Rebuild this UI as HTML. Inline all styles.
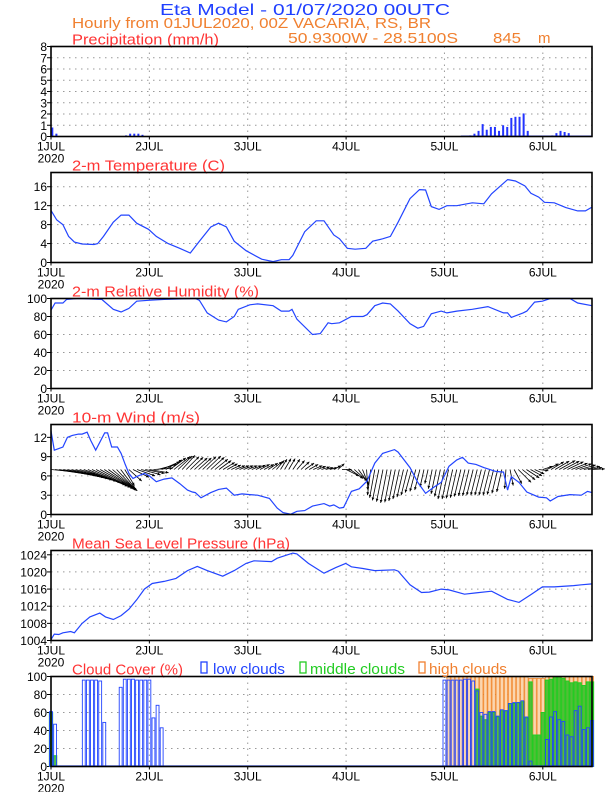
<!DOCTYPE html>
<html><head><meta charset="utf-8"><style>
html,body{margin:0;padding:0;background:#fff;}
svg{display:block;font-family:"Liberation Sans",sans-serif;}
</style></head><body>
<svg id="chart" width="612" height="792" viewBox="0 0 612 792" xmlns="http://www.w3.org/2000/svg">
<text x="160" y="15" font-size="16" fill="#2040ff" textLength="290" lengthAdjust="spacingAndGlyphs">Eta Model - 01/07/2020 00UTC</text>
<text x="72" y="28" font-size="15" fill="#f08030" textLength="359" lengthAdjust="spacingAndGlyphs">Hourly from 01JUL2020, 00Z  VACARIA, RS, BR</text>
<text x="288" y="43" font-size="15" fill="#f08030" textLength="170" lengthAdjust="spacingAndGlyphs">50.9300W - 28.5100S</text>
<text x="493" y="43" font-size="15" fill="#f08030" textLength="28" lengthAdjust="spacingAndGlyphs">845</text>
<text x="538" y="43" font-size="15" fill="#f08030">m</text>
<g id="g"></g>
</svg>
<script>
// ---- data ----
const dayLabels = ["1JUL","2JUL","3JUL","4JUL","5JUL","6JUL"];
const precipHours = [0,1,18,19,20,21,22,102,103,104,105,106,107,108,109,110,111,112,113,114,115,116,122,123,124,125,126];
const precipValues = [0.8,0.25,0.1,0.25,0.25,0.25,0.15,0.1,0.25,0.5,1.1,0.6,0.85,0.85,0.5,1.0,0.85,1.65,1.75,1.75,2.05,0.5,0.1,0.3,0.5,0.4,0.3];
const tempHours = [0,1.4,2.9,4.3,5.7,7.6,10.5,11.4,12.8,15.2,17.1,19,20.9,23.8,25.7,28.6,31.4,34,36.2,39,40.9,42.8,44.7,47.6,51.4,54.2,56.2,58.1,59,61.9,64.7,66.6,69,70.4,72.3,74.2,76.8,78.5,80.9,82.8,84.7,87.6,89.9,91.4,92.8,94.7,96.6,99,102.8,105.6,107.5,111.4,113.3,115.6,117.1,119,120.4,122.8,125.6,128.5,130.4,132];
const tempValues = [11,9,8,5.5,4.3,3.9,3.8,4,5.5,8.5,10,10,8.3,7,5.5,4,3,2,4.5,7.5,8.3,7.5,4.5,2.5,0.7,0.2,0.6,0.6,1.5,6.5,8.8,8.8,5.8,5,3,2.8,3,4.5,5,5.5,8.5,13.5,15.4,15.3,11.8,11.2,12,12,12.6,12.4,14.5,17.5,17.2,16.2,14.6,13.8,12.7,12.6,11.6,10.9,10.9,11.7];
const rhHours = [0,1,2.9,3.8,6.7,12.4,15.2,17.1,19,20.9,23.8,27.6,35.2,36.2,38.1,40.9,42.8,44.7,45.7,48.5,50.4,54.2,56.2,58.1,58.8,60,63.8,65.7,67.6,68.5,70.4,73.3,76.1,77.1,79,80.9,82.8,84.7,87.6,89.5,90.9,92.8,95.2,96.6,99,102.8,106.6,110.4,111.4,112.3,115.2,116.1,118,119.9,121.8,126.6,128.5,132];
const rhValues = [87,95,95,99,100,99,88,85,89,97,98,99,100,98,84,76,74,80,88,93,94,92,86,86,88,77,60,61,73,72,73,80,80,82,92,95,94,86,72,67,69,83,86,84,86,88,91,84,84,79,84,86,96,97,100,100,95,92];
const windHours = [0,0.8,2.9,4,5.2,6.7,7.6,8.8,9.7,10.9,13.1,13.8,14.8,16.2,17.1,18.1,19,20,20.9,22.8,24,25.7,27.6,29.5,31.4,33.3,34.5,35.2,36.6,39,40.9,42.8,44.7,46.6,48.5,50.4,53.3,55.2,56.6,58.5,60,61.9,63.8,66.6,68,69,70.4,71.4,73.3,75.2,77.1,79,80.9,83.8,84.7,87.6,89.5,91.4,93.3,95.2,97.1,99,100.4,101.8,103.7,105.6,108.5,110.4,111.4,112.3,114.2,116.1,119,120.9,121.8,123.7,126.6,129.4,130.9,132];
const windSpeed = [13,10,10.5,12,12.3,12.5,12.5,12.8,11.5,10,12.7,12.7,10.5,10.5,9.5,7.8,6.4,5.6,5.9,6.4,6,5.1,5.5,5.7,4.8,3.8,3.5,3.4,2.6,3.4,3.9,4.1,3,3.2,3.1,3,2.5,1,0.3,0.05,0.5,0.6,1.3,1.7,1.3,1.5,1,1.1,3.6,4,5.2,8,9.5,10.1,9.7,7.3,5,3.3,4.2,5,7.5,8.5,8.9,8,7.8,7.3,6.7,6.6,3.8,5.9,5,3.5,2.7,2.6,2.1,2.8,3.1,3,3.6,3.4];
const windU = [7,7,7,7,7,7,7,7,6.5,6.2,
6,5.8,5.5,5,4.5,3.8,3,2.2,1.5,2,
2.5,2.8,3,3,3,3,3,2.8,2.5,2.5,
2.5,2.2,2,2,2,2,2,2.1,2.2,2.1,
2,1.9,1.8,1.6,1.5,1.5,1.5,1.5,1.5,1.5,
1.5,1.5,1.5,1.5,1.5,1.2,1,1,1,1.1,
1.2,1.3,1.4,1.4,1.4,1.3,1.3,1.2,1.2,1.1,
1,1.5,2,2,2,1.6,1,0.2,-0.5,-0.8,
-1,-1,-1,-1,-1,-1,-1,-1,-1,-0.9,
-0.8,-0.6,-0.5,-0.6,-0.8,-0.9,-1,-1,-1,-1,
-1,-1,-1,-1,-1,-1,-1,-1,-1,-0.9,
-0.8,-0.2,0.5,1.2,2,2,2,1.8,1.5,1.5,
1.5,1.8,2,2.2,2.5,2.5,2.5,2.5,2.5,2.5,
2.5,2.2,2];
const windV = [-0.7,-1,-1.2,-1.4,-1.6,-1.8,-2,-2.2,-2.4,-2.6,
-2.8,-3,-3.1,-3.2,-3.3,-3.3,-3.2,-2.9,-2.5,-1.8,
-1.2,-1,-0.8,-0.6,-0.5,0.2,0.8,1.2,1.5,1.8,
2,2.1,2.2,2,1.9,1.8,1.8,2,2.1,1.9,
1.6,1.4,1.1,0.9,0.7,0.6,0.6,0.6,0.6,0.6,
0.7,0.8,0.8,1,1.2,1.4,1.6,1.7,1.7,1.6,
1.4,1.2,1,0.8,0.6,0.5,0.4,0.3,0.3,0.6,
0.9,0,-1,-1.4,-1.8,-2.2,-2.5,-3.2,-4,-4.4,
-4.8,-5,-5.2,-5.1,-4.9,-4.6,-4.3,-4,-3.6,-3.4,
-3.2,-2.7,-2.2,-3,-3.8,-4.2,-4.6,-4.6,-4.5,-4.4,
-4.2,-4.1,-4.1,-4,-4,-4,-4,-4,-3.9,-3.7,
-3.5,-3,-2.5,-2.2,-2,-1.6,-1.3,-1,-0.7,-0.2,
0.5,0.9,1.2,1.3,1.4,1.3,1.2,1,0.9,0.7,
0.5,0.3,0.1];
const presHours = [0,0.8,1.9,2.9,4.8,5.7,7.6,9.5,11.9,13.3,15.2,17.1,19,20.9,22.8,24.7,27.6,30.5,33.3,35.7,38.1,41.9,44.7,47.6,49.5,53.8,55.2,59,60,62.8,66.6,69.5,71.9,73.3,76.1,79,83.8,84.7,87.6,90.4,92.3,95.2,97.1,100.9,103.7,107.5,111.4,114.2,117.1,119.9,122.8,127.5,129.4,132];
const presValues = [1004.2,1005.5,1005.4,1005.8,1006.1,1005.8,1008,1009.5,1010.4,1009.5,1008.9,1009.8,1011.3,1013.5,1016,1017.3,1017.8,1018.5,1020.3,1021.3,1020.3,1019,1020.3,1022,1022.6,1022.4,1023.2,1024.4,1024.2,1022,1019.7,1021,1022,1021.2,1020.8,1020.3,1020.5,1020.2,1017,1015.2,1015.3,1016,1015.8,1014.8,1015.1,1015.5,1013.6,1012.9,1014.7,1016.5,1016.5,1016.8,1017,1017.2];
const lowHours = [0,1,8,9,10,11,12,13,17,18,19,20,21,22,23,24,25,26,27,96,97,98,99,100,101,102,103,104,105,106,107,108,109,110,111,112,113,114,115,116,117,121,122,123,124,125,126,127,128,129,130,131,132];
const lowValues = [61,47,96,96,96,96,95,49,88,97,97,97,96,96,96,96,54,68,43,96,96,96,96,96,97,97,95,84,60,58,61,61,56,63,62,70,71,71,73,55,6,30,55,61,52,50,35,33,62,67,41,43,51];
const midHours = [0,1,104,105,106,107,108,109,110,111,112,113,114,115,116,117,118,119,120,121,122,123,124,125,126,127,128,129,130,131,132];
const midValues = [60,12,86,56,52,60,60,55,62,62,70,70,71,72,54,94,35,35,60,96,97,100,100,98,95,93,94,93,90,94,94];
const highHours = [97,98,99,100,101,102,103,104,105,106,107,108,109,110,111,112,113,114,115,116,117,118,119,120,121,122,123,124,125,126,127,128,129,130,131,132];
const highValues = [100,100,100,100,100,100,100,100,100,100,100,100,100,100,100,100,100,100,100,100,98,98,98,98,100,100,100,100,100,100,100,100,100,100,100,100];

// ---- layout ----
const NS="http://www.w3.org/2000/svg";
const G=document.getElementById('g');
const X0=51, X1=592, HMAX=132, PH=90;
function xH(h){return X0+h*(X1-X0)/HMAX;}
function mk(tag,attrs,parent){const e=document.createElementNS(NS,tag);for(const k in attrs)e.setAttribute(k,attrs[k]);(parent||G).appendChild(e);return e;}
function yFn(top,min,max){return v=>top+PH-(v-min)/(max-min)*PH;}

function panel(name,top,min,max,ticks,title,titleW){
  const y=yFn(top,min,max);
  const grp=mk('g',{});
  
  
  ticks.forEach(t=>{
    if(t>min && t<max){
      const l=mk('line',{x1:X0,x2:X1,y1:y(t),y2:y(t),stroke:'#999','stroke-width':1,'stroke-dasharray':'1.5,4.5'},grp);
      
      
    }
    const tk=mk('line',{x1:X0-4,x2:X0,y1:y(t),y2:y(t),stroke:'#000','stroke-width':1},grp);
    
    
    const tx=mk('text',{x:X0-4,y:y(t)+4.5,'font-size':12,'text-anchor':'end',fill:'#000'},grp);
    tx.textContent=t;
    
    
  });
  for(let d=1;d<dayLabels.length;d++){
    const gx=xH(d*24);
    const l=mk('line',{x1:gx,x2:gx,y1:top,y2:top+PH,stroke:'#999','stroke-width':1,'stroke-dasharray':'1.5,4.5'},grp);
    
    
  }
  dayLabels.forEach((lab,d)=>{
    const gx=xH(d*24);
    mk('line',{x1:gx,x2:gx,y1:top+PH,y2:top+PH+3,stroke:'#000'},grp);
    const t=mk('text',{x:gx,y:top+PH+14,'font-size':12,'text-anchor':'middle',fill:'#000',textLength:28,lengthAdjust:'spacingAndGlyphs'},grp);
    t.textContent=lab;
    
    
  });
  const yr=mk('text',{x:X0,y:top+PH+26,'font-size':12,'text-anchor':'middle',fill:'#000'},grp);
  yr.textContent='2020';
  
  
  const tt=mk('text',{x:72,y:top-2,'font-size':15,fill:'#ff3333',textLength:titleW,lengthAdjust:'spacingAndGlyphs'},grp);
  tt.textContent=title;
  
  
  return {y,grp,top};
}
function frame(p,name){
  const r=mk('rect',{x:X0,y:p.top,width:X1-X0,height:PH,fill:'none',stroke:'#000','stroke-width':1.6},p.grp);
  
  
}
function line(p,hs,vs,name){
  const pts=hs.map((h,i)=>xH(h).toFixed(1)+','+p.y(vs[i]).toFixed(1)).join(' ');
  const pl=mk('polyline',{points:pts,fill:'none',stroke:'#2244ff','stroke-width':1.2},p.grp);
  
  
}

// Precipitation
const p1=panel('precipitation',46.5,0,8,[0,1,2,3,4,5,6,7,8],'Precipitation (mm/h)',147);
precipHours.forEach((h,i)=>{
  const r=mk('rect',{x:xH(h)+0.3,y:p1.y(precipValues[i]),width:2,height:p1.y(0)-p1.y(precipValues[i]),fill:'#2233ff'},p1.grp);
  
  
});
mk('line',{x1:xH(100),x2:X1,y1:p1.y(0)-0.5,y2:p1.y(0)-0.5,stroke:'#2233ff','stroke-width':1},p1.grp);
frame(p1,'precipitation');

// Temperature
const p2=panel('temperature',172.5,0,19,[0,4,8,12,16],'2-m Temperature (C)',153);
line(p2,tempHours,tempValues,'temperature-line');
frame(p2,'temperature');

// RH
const p3=panel('humidity',298.5,0,100,[0,20,40,60,80,100],'2-m Relative Humidity (%)',187);
line(p3,rhHours,rhValues,'humidity-line');
frame(p3,'humidity');

// Wind
const p4=panel('wind',424.5,0,14,[0,3,6,9,12],'10-m Wind (m/s)',128);
const sc=PH/14, base=p4.y(7);
windU.forEach((u,i)=>{
  const h=i, x=xH(h), tx=x+u*sc, ty=base-windV[i]*sc;
  const a=mk('line',{x1:x,y1:base,x2:tx,y2:ty,stroke:'#000','stroke-width':0.8},p4.grp);
  
  
  const ang=Math.atan2(ty-base,tx-x), L=3.2;
  const hd=mk('polygon',{points:`${tx},${ty} ${tx-L*Math.cos(ang-0.45)},${ty-L*Math.sin(ang-0.45)} ${tx-L*Math.cos(ang+0.45)},${ty-L*Math.sin(ang+0.45)}`,fill:'#000'},p4.grp);
  
  
});
line(p4,windHours,windSpeed,'wind-speed-line');
frame(p4,'wind');

// Pressure
const p5=panel('pressure',550.5,1004,1025,[1004,1008,1012,1016,1020,1024],'Mean Sea Level Pressure (hPa)',218);
line(p5,presHours,presValues,'pressure-line');
frame(p5,'pressure');

// Cloud cover
const p6=panel('cloud',676.5,0,100,[0,20,40,60,80,100],'Cloud Cover (%)',111);
const bw=(X1-X0)/HMAX;
highHours.forEach((h,i)=>{
  const r=mk('rect',{x:xH(h)-bw/2+0.4,y:p6.y(highValues[i]),width:bw-0.8,height:p6.y(0)-p6.y(highValues[i]),fill:'#fbd6b0',stroke:'#f08020','stroke-width':0.7},p6.grp);
  
  
});
midHours.forEach((h,i)=>{
  const r=mk('rect',{x:xH(h)-bw/2+0.4,y:p6.y(midValues[i]),width:bw-0.8,height:p6.y(0)-p6.y(midValues[i]),fill:'#33bb22','fill-opacity':0.85,stroke:'#22cc22','stroke-width':1},p6.grp);
  
  
});
lowHours.forEach((h,i)=>{
  const r=mk('rect',{x:xH(h)-bw/2+0.6,y:p6.y(lowValues[i]),width:bw-1.2,height:p6.y(0)-p6.y(lowValues[i]),fill:'none',stroke:'#2244ff','stroke-width':0.9},p6.grp);
  
  
});
mk('line',{x1:X0,x2:X1,y1:p6.y(0)-0.5,y2:p6.y(0)-0.5,stroke:'#2244ff','stroke-width':1.2},p6.grp);
frame(p6,'cloud');
// legend
const legs=[['low clouds','#2244ff',201,213,72],['middle clouds','#22cc22',300,310,95],['high clouds','#f08030',419,429,78]];
legs.forEach(l=>{
  const b=mk('rect',{x:l[2],y:662,width:6,height:11,fill:'none',stroke:l[1],'stroke-width':1.3});
  
  
  const t=mk('text',{x:l[3],y:674,'font-size':15,fill:l[1],textLength:l[4],lengthAdjust:'spacingAndGlyphs'});
  t.textContent=l[0];
  
  
});
</script>
</body></html>
